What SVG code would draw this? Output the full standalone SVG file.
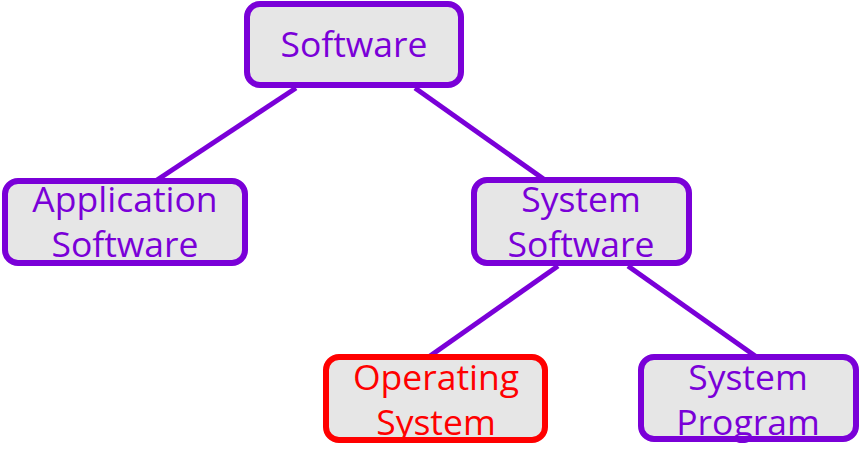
<svg xmlns="http://www.w3.org/2000/svg" width="860" height="467" viewBox="0 0 860 467">
<style>
.box{fill:#E6E6E6;stroke:#7A00D8;stroke-width:6}
.red{stroke:#FF0000}
.t{font-family:"Open Sans","Noto Sans",sans-serif;font-size:35.5px;fill:#7A00D8;text-anchor:middle}
.tr{fill:#FF0000}
.c{stroke:#7A00D8;stroke-width:5;fill:none}
</style>
<rect width="860" height="467" fill="#FFFFFF"/>
<g id="connectors">
<line class="c" x1="296" y1="88" x2="157" y2="180"/>
<line class="c" x1="415" y1="88" x2="545" y2="180"/>
<line class="c" x1="558" y1="266" x2="430" y2="356"/>
<line class="c" x1="628" y1="266" x2="758" y2="358"/>
</g>
<g id="software">
<rect class="box" x="247" y="4" width="214" height="81" rx="13"/>
<text class="t" x="354" y="57">Software</text>
</g>
<g id="application-software">
<rect class="box" x="5" y="181" width="240" height="82" rx="13"/>
<text class="t" x="125" y="212">Application</text>
<text class="t" x="125" y="257">Software</text>
</g>
<g id="system-software">
<rect class="box" x="474" y="180" width="215" height="83" rx="13"/>
<text class="t" x="581" y="212">System</text>
<text class="t" x="581" y="257">Software</text>
</g>
<g id="operating-system">
<rect class="box red" x="326" y="357" width="219" height="83" rx="13"/>
<text class="t tr" x="436" y="390">Operating</text>
<text class="t tr" x="436" y="435">System</text>
</g>
<g id="system-program">
<rect class="box" x="641" y="357" width="215" height="82" rx="13"/>
<text class="t" x="748" y="390">System</text>
<text class="t" x="748" y="435">Program</text>
</g>
</svg>
